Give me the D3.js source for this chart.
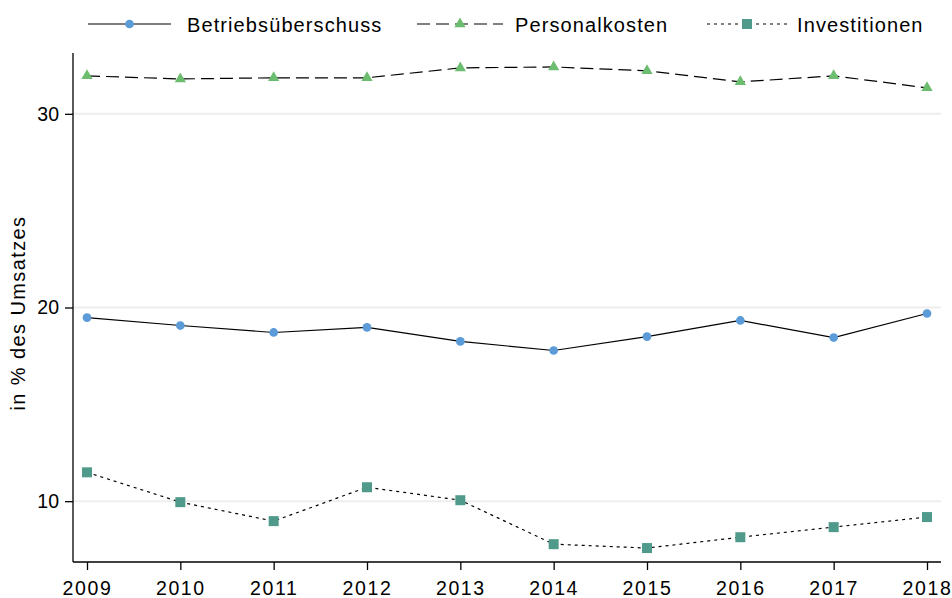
<!DOCTYPE html>
<html>
<head>
<meta charset="utf-8">
<script src="https://cdn.jsdelivr.net/npm/d3@7"></script>
<style>
  body { margin: 0; background: #fff; }
  text { font-family: "Liberation Sans", Arial, sans-serif; fill: #000; }
</style>
</head>
<body>
<svg id="chart" width="952" height="598"></svg>
<script>
'use strict'

var years = [2009, 2010, 2011, 2012, 2013, 2014, 2015, 2016, 2017, 2018]
var betrieb = [19.48, 19.07, 18.71, 18.97, 18.25, 17.78, 18.5, 19.33, 18.45, 19.69]
var personal = [31.96, 31.8, 31.86, 31.86, 32.37, 32.42, 32.22, 31.65, 31.96, 31.34]
var invest = [11.49, 9.95, 8.97, 10.72, 10.05, 7.78, 7.58, 8.14, 8.66, 9.18]
var yTicks = [10, 20, 30]
var seriesNames = ['Betriebsüberschuss', 'Personalkosten', 'Investitionen']

var svg = d3.select('#chart')
  , m = { left: 73, right: 941, top: 53, bottom: 562 }
  , x = d3.scaleLinear().domain([2009, 2018]).range([87, 927])
  , y = d3.scaleLinear().domain([6.86, 33.14]).range([m.bottom, m.top])

var series = [
  { name: seriesNames[0], values: betrieb, color: '#5a9bd8', dash: null, sym: d3.symbolCircle, size: 60 },
  { name: seriesNames[1], values: personal, color: '#6cbd6f', dash: '13,6', sym: d3.symbolTriangle, size: 55 },
  { name: seriesNames[2], values: invest, color: '#4f9a8b', dash: '3,4', sym: d3.symbolSquare, size: 100 }
]

// gridlines
svg.append('g').selectAll('line').data(yTicks).enter().append('line')
  .attr('x1', m.left).attr('x2', m.right)
  .attr('y1', function(d){ return y(d) }).attr('y2', function(d){ return y(d) })
  .attr('stroke', '#eeeeee').attr('stroke-width', 2)

// axes
var yAxis = svg.append('g').attr('transform', 'translate(' + m.left + ',0)')
  .call(d3.axisLeft(y).tickValues(yTicks).tickSize(8).tickPadding(6).tickFormat(d3.format('d')))
yAxis.select('.domain').attr('d', 'M0,' + m.top + 'V' + m.bottom)
yAxis.selectAll('.tick text').attr('font-size', 19.5)
var xAxis = svg.append('g').attr('transform', 'translate(0,' + m.bottom + ')')
  .call(d3.axisBottom(x).tickValues(years).tickSize(8).tickPadding(11).tickFormat(d3.format('d')))
xAxis.select('.domain').attr('d', 'M' + m.left + ',0H' + m.right)
xAxis.selectAll('.tick text').attr('font-size', 19.5).style('letter-spacing', '1.6px')
svg.selectAll('.domain, .tick line').attr('stroke', '#000').attr('stroke-width', 1.3)

// y label
svg.append('text').attr('transform', 'translate(25,313) rotate(-90)')
  .attr('text-anchor', 'middle').attr('font-size', 20).style('letter-spacing', '1.4px')
  .text('in % des Umsatzes')

var line = d3.line().x(function(d, i){ return x(years[i]) }).y(function(d){ return y(d) })

series.forEach(function(s){
  svg.append('path').attr('d', line(s.values)).attr('fill', 'none')
    .attr('stroke', '#000').attr('stroke-width', 1.2).attr('stroke-dasharray', s.dash)
  svg.append('g').selectAll('path').data(s.values).enter().append('path')
    .attr('d', d3.symbol().type(s.sym).size(s.size))
    .attr('transform', function(d, i){ return 'translate(' + x(years[i]) + ',' + y(d) + ')' })
    .attr('fill', s.color)
})

// legend
var legLine = [[88, 171], [417, 503], [707, 787]]
  , legText = [187, 515, 797]
series.forEach(function(s, i){
  var g = svg.append('g')
  g.append('line').attr('x1', legLine[i][0]).attr('x2', legLine[i][1]).attr('y1', 24).attr('y2', 24)
    .attr('stroke', '#000').attr('stroke-width', 1.2).attr('stroke-dasharray', s.dash)
  g.append('path').attr('d', d3.symbol().type(s.sym).size(s.size))
    .attr('transform', 'translate(' + (legLine[i][0] + legLine[i][1]) / 2 + ',24)').attr('fill', s.color)
  g.append('text').attr('x', legText[i]).attr('y', 31.5).attr('font-size', 20)
    .style('letter-spacing', '1.1px').text(s.name)
})
</script>
</body>
</html>
